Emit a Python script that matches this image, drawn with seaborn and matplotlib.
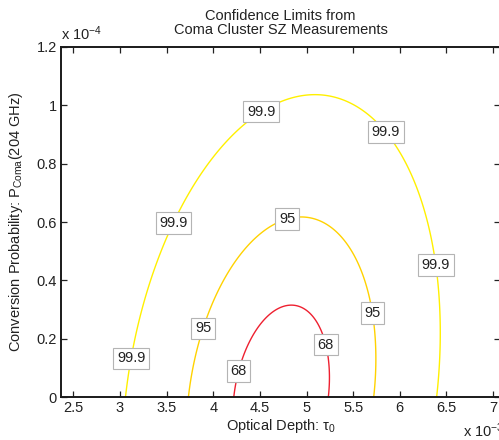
import numpy as np
import matplotlib
matplotlib.use("Agg")
import matplotlib.pyplot as plt
import seaborn as sns
from matplotlib.ticker import FormatStrFormatter

# ---- data -------------------------------------------------------------
conf_labels = ["68", "95", "99.9"]          # confidence levels (%)
delta_chi2 = [1.00, 3.84, 10.83]            # corresponding delta chi^2 (1 dof)
line_colors = ["#ee2030", "#ffd200", "#fff000"]

# best-fit surface parameters (tau in 1e-3, P in 1e-4)
tau_center = 4.727
tau_sigma = 0.507
p_sigma = 0.315
tau_shear = 0.35        # shift of tau centre per unit P

x_range = (2.367, 7.075)
y_range = (0.0, 1.2)
x_ticks = [2.5, 3, 3.5, 4, 4.5, 5, 5.5, 6, 6.5, 7]
y_ticks = [0, 0.2, 0.4, 0.6, 0.8, 1.0, 1.2]

label_positions = [
    (4.49, 0.99), (3.565, 0.598), (3.11, 0.133), (5.84, 0.906), (6.38, 0.452),
    (3.89, 0.235), (4.79, 0.613), (5.69, 0.287),
    (4.27, 0.089), (5.19, 0.178),
]

# ---- style -------------------------------------------------------------
sns.set_style("ticks")
plt.rcParams["font.family"] = ["Liberation Sans", "DejaVu Sans"]
plt.rcParams["mathtext.fontset"] = "custom"
plt.rcParams["mathtext.rm"] = "Liberation Sans"
plt.rcParams["mathtext.it"] = "Liberation Sans:italic"
plt.rcParams["mathtext.default"] = "regular"

FS = 10.5
TXT = "#222222"

fig = plt.figure(figsize=(4.99, 4.40), dpi=100)
fig.patch.set_facecolor("white")
ax = fig.add_axes([61 / 499, 43 / 440, 439 / 499, 350 / 440])

tau = np.linspace(x_range[0], x_range[1], 600)
prob = np.linspace(y_range[0], y_range[1], 400)
T, P = np.meshgrid(tau, prob)
chi2 = ((T - tau_center - tau_shear * P) / tau_sigma) ** 2 + (P / p_sigma) ** 2

cs = ax.contour(T, P, chi2, levels=delta_chi2, colors=line_colors,
                linewidths=1.0)
fmt = {lev: lab for lev, lab in zip(cs.levels, conf_labels)}
texts = ax.clabel(cs, cs.levels, inline=False, fmt=fmt, fontsize=FS,
                  manual=label_positions, colors=TXT)
for t in texts:
    t.set_rotation(0)
    t.set_bbox(dict(boxstyle="square,pad=0.25", fc="white", ec="#b4b4b4", lw=0.8))

ax.set_xlim(*x_range)
ax.set_ylim(*y_range)
ax.set_xticks(x_ticks)
ax.set_yticks(y_ticks)
ax.xaxis.set_major_formatter(FormatStrFormatter("%g"))
ax.yaxis.set_major_formatter(FormatStrFormatter("%g"))
ax.tick_params(direction="in", length=4, width=0.9, top=True, right=True,
               labelsize=FS, colors=TXT, pad=3)
for s in ax.spines.values():
    s.set_linewidth(1.4)
    s.set_color("#1a1a1a")

ax.set_xlabel("Optical Depth: τ$_0$", fontsize=FS, color=TXT, labelpad=1)
ax.set_ylabel("Conversion Probability: P$_{Coma}$(204 GHz)", fontsize=FS,
              color=TXT, labelpad=8)
ax.set_title("Confidence Limits from\nComa Cluster SZ Measurements",
             fontsize=FS, color=TXT, pad=9, linespacing=1.05)
ax.text(0.0, 1.012, "x 10$^{-4}$", transform=ax.transAxes, ha="left",
        va="bottom", fontsize=FS, color=TXT)
ax.text(0.915, -0.114, "x 10$^{-3}$", transform=ax.transAxes, ha="left",
        va="baseline", fontsize=FS, color=TXT)

fig.savefig("out.png", dpi=100, facecolor="white")
